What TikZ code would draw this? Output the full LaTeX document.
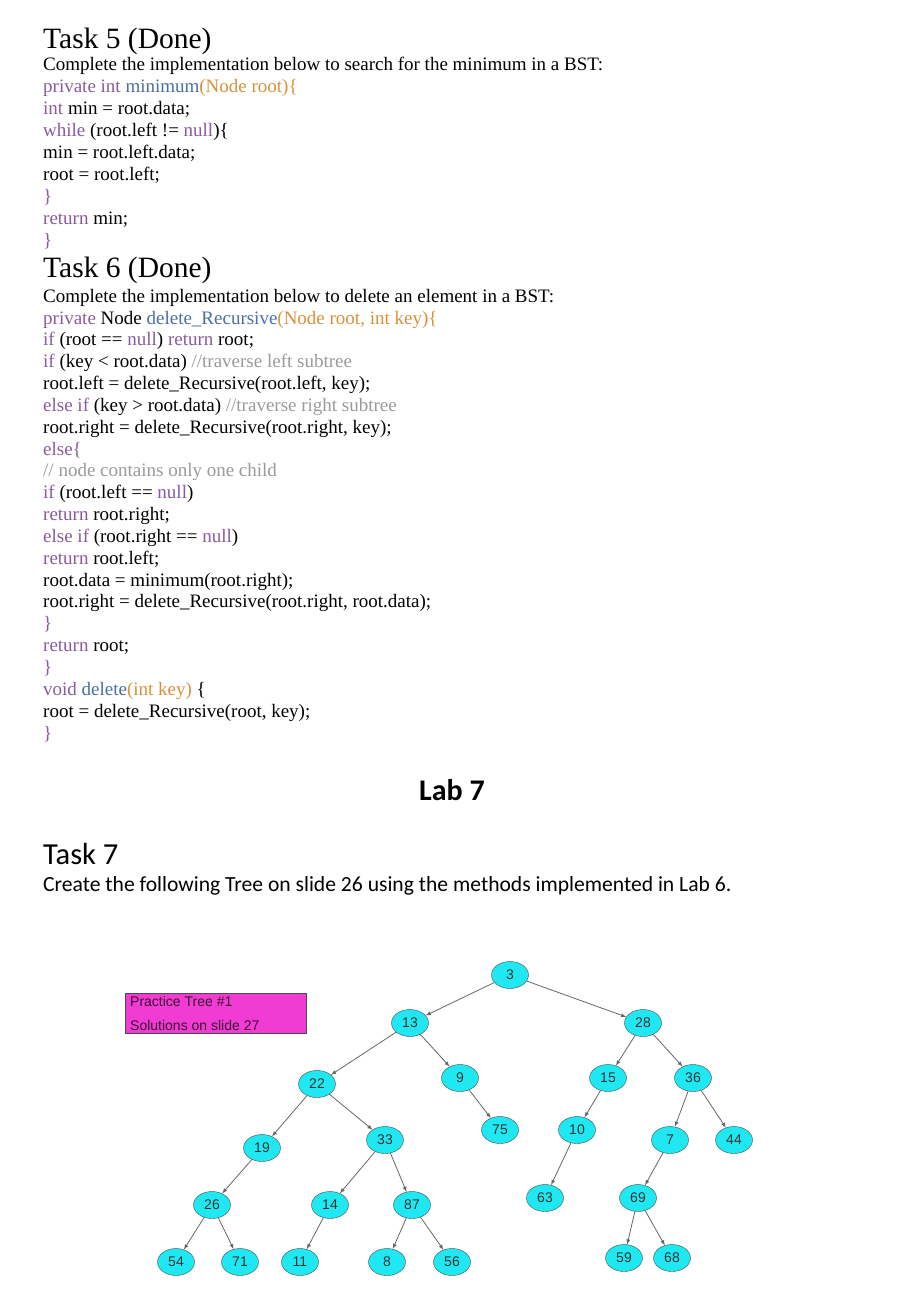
\documentclass[tikz,border=0pt]{standalone}
\usepackage{fontspec}
\setmainfont{Liberation Serif}
\newfontfamily\calfont{Carlito}
\newfontfamily\arsfont{Liberation Sans}
\usetikzlibrary{shapes.geometric}
\definecolor{kw}{HTML}{8A5A9E}
\definecolor{fn}{HTML}{4A6FA5}
\definecolor{par}{HTML}{D9903A}
\definecolor{cm}{HTML}{9A9A9A}
\definecolor{cy}{HTML}{1FE8F2}
\definecolor{mg}{HTML}{F03CD2}
\newcommand{\ckw}[1]{\textcolor{kw}{#1}}
\newcommand{\cfn}[1]{\textcolor{fn}{#1}}
\newcommand{\cpar}[1]{\textcolor{par}{#1}}
\newcommand{\ccm}[1]{\textcolor{cm}{#1}}
\begin{document}
\begin{tikzpicture}[x=1pt,y=-1pt,
  code/.style={anchor=base west,inner sep=0,font=\fontsize{19}{21}\selectfont},
  head/.style={anchor=base west,inner sep=0,font=\fontsize{29.5}{32}\selectfont},
  tn/.style={ellipse,draw=black!70,fill=cy,minimum width=37,minimum height=27,inner sep=0,text=black!80,font=\arsfont\fontsize{14}{16}\selectfont},
  ed/.style={-latex,draw=black!60,line width=0.8}]
\useasboundingbox (0,0) rectangle (921,1315);
\node[head] (t5) at (43,48) {Task 5 (Done)};
\foreach \y/\t [count=\i] in {
 70/{Complete the implementation below to search for the minimum in a BST:},
 92/{\ckw{private int} \cfn{minimum}\cpar{(Node root)\{}},
 114/{\ckw{int} min = root.data;},
 136/{\ckw{while} (root.left != \ckw{null})\{},
 158/{min = root.left.data;},
 180/{root = root.left;},
 202/{\ckw{\}}},
 224/{\ckw{return} min;},
 246/{\ckw{\}}}}
 {\node[code] (a\i) at (43,\y) {\t};}
\node[head] (t6) at (43,277) {Task 6 (Done)};
\foreach \y/\t [count=\i] in {
 302/{Complete the implementation below to delete an element in a BST:},
 324/{\ckw{private} Node \cfn{delete\_Recursive}\cpar{(Node root, int key)\{}},
 345/{\ckw{if} (root == \ckw{null}) \ckw{return} root;},
 367/{\ckw{if} (key < root.data) \ccm{//traverse left subtree}},
 389/{root.left = delete\_Recursive(root.left, key);},
 411/{\ckw{else if} (key > root.data) \ccm{//traverse right subtree}},
 433/{root.right = delete\_Recursive(root.right, key);},
 455/{\ckw{else\{}},
 476/{\ccm{// node contains only one child}},
 498/{\ckw{if} (root.left == \ckw{null})},
 520/{\ckw{return} root.right;},
 542/{\ckw{else if} (root.right == \ckw{null})},
 564/{\ckw{return} root.left;},
 586/{root.data = minimum(root.right);},
 607/{root.right = delete\_Recursive(root.right, root.data);},
 629/{\ckw{\}}},
 651/{\ckw{return} root;},
 673/{\ckw{\}}},
 695/{\ckw{void} \cfn{delete}\cpar{(int key)} \{},
 717/{root = delete\_Recursive(root, key);},
 739/{\ckw{\}}}}
 {\node[code] (b\i) at (43,\y) {\t};}
\node[font=\calfont\bfseries\fontsize{30}{32}\selectfont] (lab) at (452,790) {Lab 7};
\node[anchor=base west,inner sep=0,font=\calfont\fontsize{30.5}{33}\selectfont] (t7) at (43,864) {Task 7};
\node[anchor=base west,inner sep=0,font=\calfont\fontsize{21.6}{24}\selectfont] (cr) at (43,891) {Create the following Tree on slide 26 using the methods implemented in Lab 6.};
\node[draw=black!70,fill=mg,minimum width=181,minimum height=40,inner sep=0] (box) at (215.5,1013) {};
\node[anchor=west,inner sep=0,font=\arsfont\fontsize{14}{16}\selectfont,text=black!75!mg] (p1) at (130,1001) {Practice Tree \#1};
\node[anchor=west,inner sep=0,font=\arsfont\fontsize{14}{16}\selectfont,text=black!75!mg] (p2) at (130,1025) {Solutions on slide 27};
\foreach \n/\x/\y in {3/510/975,13/410/1023,28/643/1023,22/317/1084,9/460/1078,15/608/1078,36/693/1078,19/262/1148,33/385/1140,75/500/1130,10/577/1130,7/670/1140,44/734/1140,26/212/1205,14/330/1205,87/412/1205,63/545/1198,69/638/1198,54/176/1262,71/240/1262,11/300/1262,8/387/1262,56/452/1262,59/624/1258,68/672/1258}
 {\node[tn] (n\n) at (\x,\y) {\n};}
\foreach \a/\b in {3/13,3/28,13/22,13/9,9/75,22/19,22/33,19/26,26/54,26/71,33/14,33/87,14/11,87/8,87/56,28/15,28/36,15/10,10/63,36/7,36/44,7/69,69/59,69/68}
 {\draw[ed] (n\a) -- (n\b);}
\end{tikzpicture}
\end{document}
